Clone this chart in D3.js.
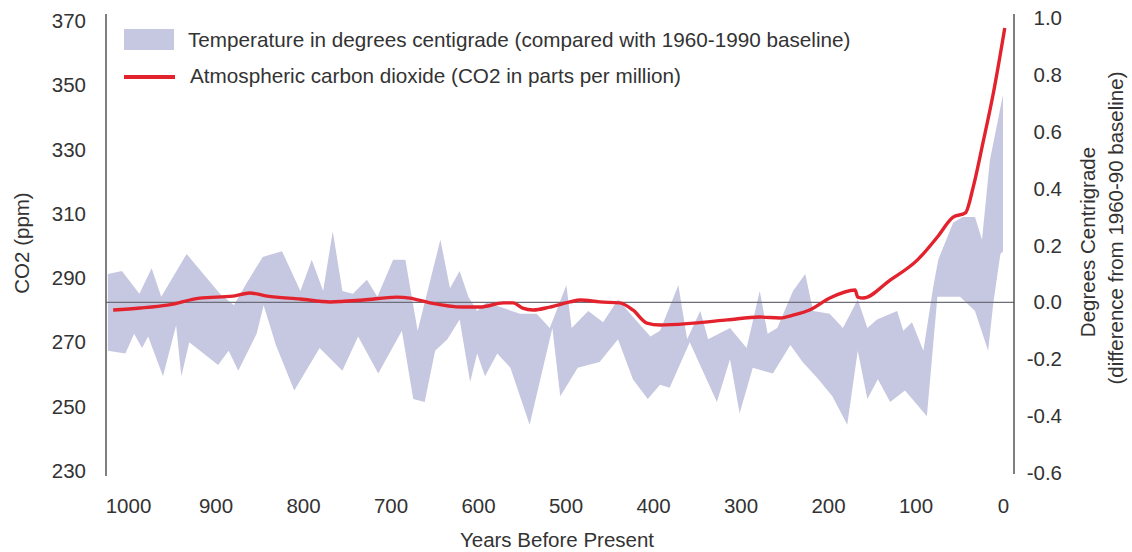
<!DOCTYPE html>
<html lang="en">
<head>
    <meta charset="UTF-8">
    <title>Temperature and CO2 over the last 1000 years</title>
    <script src="https://d3js.org/d3.v7.min.js"></script>
    <style>
        body { margin: 0; background: #fff; }
        svg text { font-family: "Liberation Sans", Arial, sans-serif; fill: #333; }
        .tick text { font-size: 20.5px; }
        .label { font-size: 20.5px; }
        .legend-text { font-size: 20.7px; }
    </style>
</head>
<body>
<div id="chart"></div>
<script>
    // ticks
    const yearTicks = [1000, 900, 800, 700, 600, 500, 400, 300, 200, 100, 0];
    const co2Ticks = [230, 250, 270, 290, 310, 330, 350, 370];
    const tempTicks = [-0.6, -0.4, -0.2, 0.0, 0.2, 0.4, 0.6, 0.8, 1.0];

    // temperature band (deg C vs 1960-90), upper and lower edges
    const upperYears = [1023, 1007, 987, 973, 962, 933, 895, 879, 864, 846, 824, 803, 790, 777, 766,
        755, 743, 727, 715, 697, 683, 669, 643, 632, 621, 611, 601, 590, 571, 552, 533, 518, 499, 493,
        474, 457, 440, 426, 403, 392, 371, 361, 346, 337, 312, 293, 278, 269, 258, 240, 226, 217, 198,
        183, 166, 155, 144, 121, 114, 104, 91, 80, 74, 57, 46, 32, 24, 15, 0];
    const upperTemps = [0.10, 0.11, 0.03, 0.12, 0.02, 0.17, 0.03, -0.01, 0.07, 0.16, 0.18, 0.04, 0.15, 0.04, 0.25,
        0.04, 0.03, 0.08, 0.02, 0.15, 0.15, -0.10, 0.22, 0.05, 0.11, 0.02, -0.03, 0.00, -0.02, -0.04, -0.04, -0.09, 0.06, -0.09,
        -0.03, -0.07, 0.01, -0.04, -0.12, -0.10, 0.06, -0.13, -0.03, -0.13, -0.09, -0.16, 0.04, -0.11, -0.09, 0.04, 0.10, -0.03, -0.04,
        -0.09, 0.01, -0.09, -0.06, -0.03, -0.10, -0.07, -0.17, 0.05, 0.15, 0.28, 0.30, 0.30, 0.22, 0.50, 0.73];

    const lowerYears = [1023, 1003, 993, 984, 977, 960, 945, 939, 930, 897, 885, 874, 853, 845, 831,
        810, 781, 755, 737, 714, 687, 674, 661, 649, 635, 621, 609, 601, 592, 578, 563, 541, 515, 506, 486,
        461, 440, 423, 406, 392, 381, 358, 327, 312, 301, 286, 263, 243, 229, 211, 195, 178, 166, 155,
        143, 129, 112, 87, 75, 49, 32, 17, 11, 3, 0];
    const lowerTemps = [-0.17, -0.18, -0.11, -0.16, -0.12, -0.26, -0.08, -0.26, -0.14, -0.22, -0.17, -0.24, -0.11, -0.01, -0.15,
        -0.31, -0.16, -0.24, -0.12, -0.25, -0.10, -0.34, -0.35, -0.17, -0.13, -0.06, -0.28, -0.18, -0.26, -0.18, -0.23, -0.43, -0.09, -0.33, -0.23,
        -0.21, -0.13, -0.27, -0.34, -0.29, -0.30, -0.14, -0.35, -0.20, -0.39, -0.23, -0.25, -0.15, -0.21, -0.27, -0.33, -0.43, -0.17, -0.34,
        -0.27, -0.35, -0.31, -0.40, 0.02, 0.02, -0.03, -0.17, 0.00, 0.17, 0.18];

    // CO2 in ppm
    const co2Years = [1017, 986, 955, 918, 880, 861, 841, 803, 769, 731, 693, 678, 655, 617, 598,
        571, 560, 549, 537, 518, 495, 483, 461, 438, 423, 407, 392, 354, 315, 278, 255, 240, 221, 198,
        169, 166, 160, 129, 98, 75, 57, 43, 34, 23, 11, -2];
    const co2Ppm = [280.1, 280.7, 281.6, 283.8, 284.4, 285.4, 284.4, 283.5, 282.6, 283.2, 284.1, 283.8, 282.3, 281.0, 281.0,
        282.3, 282.3, 280.7, 280.1, 281.0, 282.6, 283.2, 282.6, 282.3, 280.1, 276.0, 275.4, 276.0, 277.0, 277.9, 277.6, 278.5, 280.1, 283.8,
        286.3, 284.1, 283.8, 289.4, 295.6, 302.8, 309.0, 310.3, 318.4, 332.0, 347.6, 367.8];

    const width = 1132, height = 552;
    const frame = { left: 106, right: 1014, top: 14, bottom: 476 };
    const bandColor = "#c6c7e0";
    const co2Color = "#e2232e";

    const svg = d3.select("#chart").append("svg")
        .attr("width", width)
        .attr("height", height);

    const x = d3.scaleLinear().domain([1000, 0]).range([128, 1003]);
    const yCo2 = d3.scaleLinear().domain([230, 370]).range([471, 21]);
    const yTemp = d3.scaleLinear().domain([-0.6, 1.0]).range([473, 18]);

    // band polygon: upper edge left to right, then lower edge back
    const upper = upperYears.map((yr, i) => [yr, upperTemps[i]]);
    const lower = lowerYears.map((yr, i) => [yr, lowerTemps[i]]).reverse();
    const bandLine = d3.line().x(d => x(d[0])).y(d => yTemp(d[1]));

    svg.append("path")
        .attr("d", bandLine(upper.concat(lower)) + "Z")
        .attr("fill", bandColor);

    // 0.0 baseline
    svg.append("line")
        .attr("x1", frame.left).attr("x2", frame.right)
        .attr("y1", yTemp(0)).attr("y2", yTemp(0))
        .attr("stroke", "#6e6e7a")
        .attr("stroke-width", 1.2);

    // CO2 line
    const co2Line = d3.line()
        .x(d => x(d[0]))
        .y(d => yCo2(d[1]))
        .curve(d3.curveMonotoneX);

    svg.append("path")
        .attr("d", co2Line(co2Years.map((yr, i) => [yr, co2Ppm[i]])))
        .attr("fill", "none")
        .attr("stroke", co2Color)
        .attr("stroke-width", 3.4)
        .attr("stroke-linejoin", "round");

    // axis lines
    svg.append("line")
        .attr("x1", frame.left).attr("x2", frame.left)
        .attr("y1", frame.top).attr("y2", frame.bottom)
        .attr("stroke", "#555").attr("stroke-width", 1.5);
    svg.append("line")
        .attr("x1", frame.right).attr("x2", frame.right)
        .attr("y1", frame.top).attr("y2", 474)
        .attr("stroke", "#555").attr("stroke-width", 1.5);

    // axes (labels only)
    svg.append("g")
        .attr("transform", `translate(${frame.left},0)`)
        .call(d3.axisLeft(yCo2).tickValues(co2Ticks).tickSize(0).tickPadding(20))
        .call(g => g.select(".domain").remove());

    svg.append("g")
        .attr("transform", `translate(${frame.right},0)`)
        .call(d3.axisRight(yTemp).tickValues(tempTicks).tickSize(0).tickPadding(48)
            .tickFormat(d => d.toFixed(1)))
        .call(g => g.select(".domain").remove())
        .call(g => g.selectAll("text").attr("text-anchor", "end"));

    svg.append("g")
        .attr("transform", `translate(0,${frame.bottom})`)
        .call(d3.axisBottom(x).tickValues(yearTicks).tickSize(0).tickPadding(22)
            .tickFormat(d => String(d)))
        .call(g => g.select(".domain").remove());

    svg.selectAll(".tick text").attr("fill", "#333").style("font-family", null);

    // axis titles
    svg.append("text")
        .attr("class", "label")
        .attr("transform", "translate(29,243) rotate(-90)")
        .attr("text-anchor", "middle")
        .text("CO2 (ppm)");

    svg.append("text")
        .attr("class", "label")
        .attr("x", 557).attr("y", 547)
        .attr("text-anchor", "middle")
        .text("Years Before Present");

    svg.append("text")
        .attr("class", "label")
        .attr("transform", "translate(1095,242) rotate(-90)")
        .attr("text-anchor", "middle")
        .text("Degrees Centrigrade");

    svg.append("text")
        .attr("class", "label")
        .attr("transform", "translate(1123,228) rotate(-90)")
        .attr("text-anchor", "middle")
        .text("(difference from 1960-90 baseline)");

    // legend
    const legend = svg.append("g");
    legend.append("rect")
        .attr("x", 124).attr("y", 29)
        .attr("width", 50).attr("height", 21)
        .attr("fill", bandColor);
    legend.append("text")
        .attr("class", "legend-text")
        .attr("x", 188).attr("y", 40).attr("dy", "0.35em")
        .text("Temperature in degrees centigrade (compared with 1960-1990 baseline)");
    legend.append("line")
        .attr("x1", 124).attr("x2", 175)
        .attr("y1", 77).attr("y2", 77)
        .attr("stroke", co2Color).attr("stroke-width", 4);
    legend.append("text")
        .attr("class", "legend-text")
        .attr("x", 190).attr("y", 76).attr("dy", "0.35em")
        .text("Atmospheric carbon dioxide (CO2 in parts per million)");
</script>
</body>
</html>
